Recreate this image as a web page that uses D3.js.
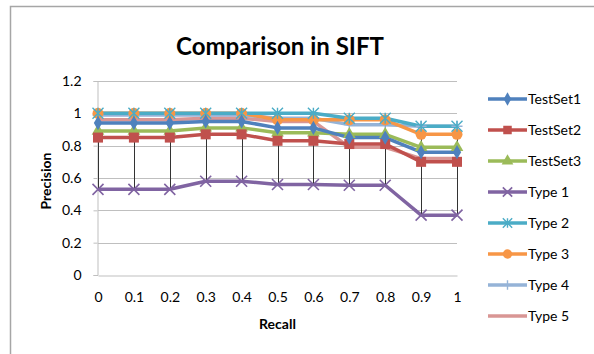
<!DOCTYPE html>
<html>
<head>
<meta charset="utf-8">
<script src="https://cdn.jsdelivr.net/npm/d3@7"></script>
<style>
  html, body { margin: 0; padding: 0; background: #fff; }
  svg { display: block; font-family: Lato, "Open Sans", sans-serif; }
</style>
</head>
<body>
<svg id="chart" width="594" height="354"></svg>
<script>
// Recall levels on the category axis
const recall = ["0", "0.1", "0.2", "0.3", "0.4", "0.5", "0.6", "0.7", "0.8", "0.9", "1"];

// Precision per series
const testSet1 = [0.94, 0.94, 0.94, 0.95, 0.95, 0.91, 0.91, 0.85, 0.85, 0.76, 0.76];
const testSet2 = [0.85, 0.85, 0.85, 0.87, 0.87, 0.83, 0.83, 0.81, 0.81, 0.70, 0.70];
const testSet3 = [0.89, 0.89, 0.89, 0.91, 0.91, 0.88, 0.88, 0.87, 0.87, 0.79, 0.79];
const type1    = [0.53, 0.53, 0.53, 0.58, 0.58, 0.56, 0.56, 0.555, 0.555, 0.37, 0.37];
const type2    = [1.00, 1.00, 1.00, 1.00, 1.00, 1.00, 1.00, 0.97, 0.97, 0.92, 0.92];
const type3    = [1.00, 1.00, 1.00, 1.00, 1.00, 0.96, 0.96, 0.96, 0.96, 0.87, 0.87];
const type4    = [0.99, 0.99, 0.99, 0.99, 0.99, 0.97, 0.97, 0.93, 0.93, 0.92, 0.92];
const type5    = [0.96, 0.96, 0.96, 0.97, 0.97, 0.95, 0.95, 0.79, 0.79, 0.72, 0.72];

const seriesNames = ["TestSet1", "TestSet2", "TestSet3", "Type 1", "Type 2", "Type 3", "Type 4", "Type 5"];
const yTicks = [0, 0.2, 0.4, 0.6, 0.8, 1, 1.2];

const seriesValues = [testSet1, testSet2, testSet3, type1, type2, type3, type4, type5];
const colors  = ["#4F81BD", "#C0504D", "#9BBB59", "#8064A2", "#4BACC6", "#F79646", "#95B3D7", "#D99694"];
const symbols = ["diamond", "square", "triangle", "x", "star", "circle", "plus", "none"];

const series = seriesNames.map((name, i) => ({
  name, color: colors[i], symbol: symbols[i],
  values: seriesValues[i].map((v, j) => ({ r: recall[j], v }))
}));

const svg = d3.select("#chart");

// outer chart frame
svg.append("rect")
  .attr("x", 10.5).attr("y", 6.5)
  .attr("width", 620).attr("height", 400)
  .attr("fill", "none").attr("stroke", "#a6a6a6").attr("stroke-width", 1.5);

const plot = { left: 98, right: 457, top: 81, bottom: 275 };

const x = d3.scalePoint().domain(recall).range([plot.left, plot.right]);
const y = d3.scaleLinear().domain([0, 1.2]).range([plot.bottom, plot.top]);

// horizontal gridlines
svg.append("g")
  .selectAll("line")
  .data(yTicks.filter(t => t > 0))
  .join("line")
  .attr("x1", plot.left).attr("x2", plot.right)
  .attr("y1", d => Math.round(y(d)) + 0.5).attr("y2", d => Math.round(y(d)) + 0.5)
  .attr("stroke", "#bfbfbf").attr("stroke-width", 1);

// y axis
const yAxis = svg.append("g")
  .attr("transform", `translate(${plot.left - 0.5},0)`)
  .call(d3.axisLeft(y).tickValues(yTicks).tickSize(4).tickPadding(12)
    .tickFormat(d => d3.format("")(+d.toFixed(1))));
yAxis.select(".domain").attr("stroke", "#bfbfbf").attr("stroke-width", 1);
yAxis.selectAll(".tick line").attr("stroke", "#bfbfbf");
yAxis.selectAll("text").attr("font-size", 14).attr("fill", "#000")
  .attr("font-family", "Lato, sans-serif");

// x axis
const xAxis = svg.append("g")
  .attr("transform", `translate(0,${Math.round(plot.bottom) + 0.5})`)
  .call(d3.axisBottom(x).tickSize(0).tickPadding(17));
xAxis.select(".domain").attr("stroke", "#bfbfbf").attr("stroke-width", 1);
xAxis.selectAll("text").attr("font-size", 14).attr("fill", "#000")
  .attr("font-family", "Lato, sans-serif");

// axis titles
svg.append("text")
  .attr("x", (plot.left + plot.right) / 2).attr("y", 329)
  .attr("text-anchor", "middle").attr("font-size", 14).attr("font-weight", "bold")
  .text("Recall");
svg.append("text")
  .attr("transform", `translate(51,${(plot.top + plot.bottom) / 2 + 3}) rotate(-90)`)
  .attr("text-anchor", "middle").attr("font-size", 14).attr("font-weight", "bold")
  .text("Precision");

// chart title
svg.append("text")
  .attr("x", 280).attr("y", 55)
  .attr("text-anchor", "middle").attr("font-size", 24).attr("font-weight", "bold")
  .text("Comparison in SIFT");

// marker drawing
function drawMarker(g, symbol, color, size) {
  const s = size || 1;
  if (symbol === "diamond") {
    g.append("path").attr("d", d3.symbol(d3.symbolDiamond, 60 * s)()).attr("fill", color);
  } else if (symbol === "square") {
    g.append("rect").attr("x", -5 * s).attr("y", -5 * s).attr("width", 10 * s).attr("height", 10 * s).attr("fill", color);
  } else if (symbol === "triangle") {
    g.append("path").attr("d", d3.symbol(d3.symbolTriangle, 70 * s)()).attr("fill", color);
  } else if (symbol === "circle") {
    g.append("circle").attr("r", 5.5 * s).attr("fill", color);
  } else if (symbol === "x") {
    const r = 5.5 * s;
    g.append("path").attr("d", `M${-r},${-r}L${r},${r}M${-r},${r}L${r},${-r}`)
      .attr("stroke", color).attr("stroke-width", 1.6).attr("fill", "none");
  } else if (symbol === "star") {
    const r = 5.5 * s;
    g.append("path").attr("d", `M${-r},${-r}L${r},${r}M${-r},${r}L${r},${-r}M0,${-r}L0,${r}`)
      .attr("stroke", color).attr("stroke-width", 1.4).attr("fill", "none");
  } else if (symbol === "plus") {
    const r = 5.5 * s;
    g.append("path").attr("d", `M${-r},0L${r},0M0,${-r}L0,${r}`)
      .attr("stroke", color).attr("stroke-width", 1.4).attr("fill", "none");
  }
}

const line = d3.line().x(d => x(d.r)).y(d => y(d.v));

// series lines (first series on top, as drawn last)
const seriesG = svg.append("g");
series.slice().reverse().forEach(s => {
  seriesG.append("path")
    .datum(s.values)
    .attr("d", line)
    .attr("fill", "none")
    .attr("stroke", s.color)
    .attr("stroke-width", 3.5)
    .attr("stroke-linejoin", "round");
});

// high-low lines at each recall level
const hiLo = recall.map((r, j) => {
  const vals = seriesValues.map(arr => arr[j]);
  return { r, hi: d3.max(vals), lo: d3.min(vals) };
});
svg.append("g")
  .selectAll("line")
  .data(hiLo)
  .join("line")
  .attr("x1", d => Math.round(x(d.r)) + 0.5).attr("x2", d => Math.round(x(d.r)) + 0.5)
  .attr("y1", d => y(d.hi)).attr("y2", d => y(d.lo))
  .attr("stroke", "#333").attr("stroke-width", 1);

// markers
series.slice().reverse().forEach(s => {
  s.values.forEach(d => {
    const g = svg.append("g").attr("transform", `translate(${x(d.r)},${y(d.v)})`);
    drawMarker(g, s.symbol, s.color);
  });
});

// legend
const legend = svg.append("g");
series.forEach((s, i) => {
  const ly = 99 + i * 31;
  const g = legend.append("g").attr("transform", `translate(0,${ly})`);
  g.append("line").attr("x1", 488).attr("x2", 527).attr("y1", 0).attr("y2", 0)
    .attr("stroke", s.color).attr("stroke-width", 3.5);
  const m = g.append("g").attr("transform", "translate(507.5,0)");
  drawMarker(m, s.symbol, s.color, 0.85);
  g.append("text").attr("x", 528).attr("y", 5).attr("font-size", 14).attr("fill", "#000")
    .text(s.name);
});
</script>
</body>
</html>
